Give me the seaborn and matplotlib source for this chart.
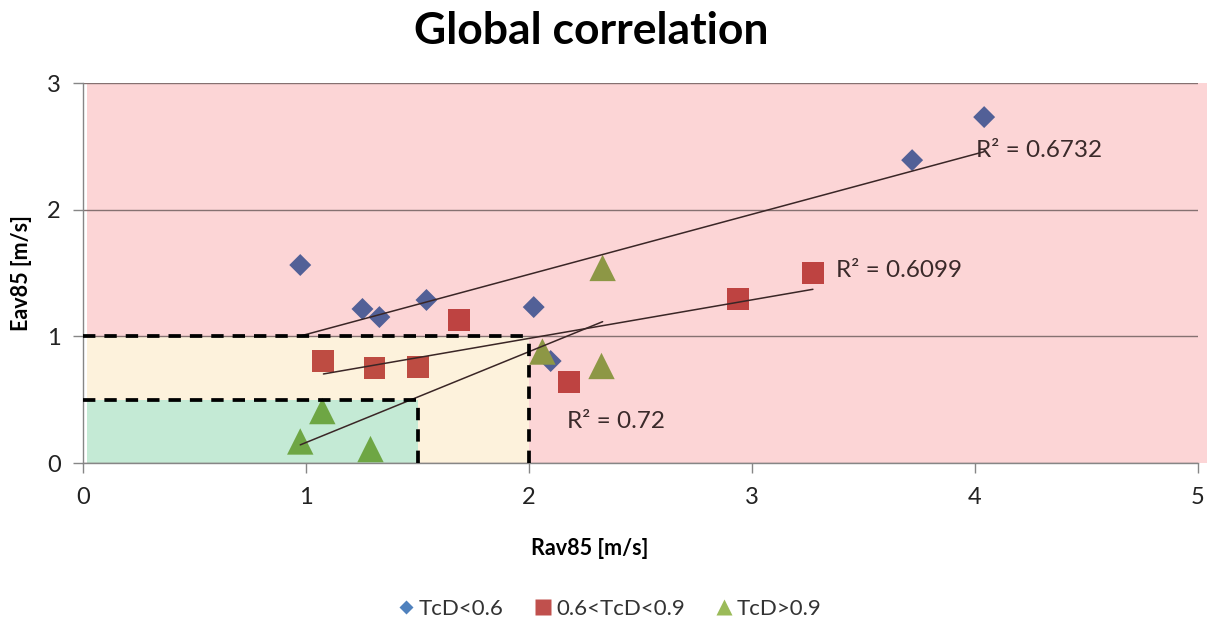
import numpy as np
import pandas as pd
import matplotlib
matplotlib.use("Agg")
import matplotlib.pyplot as plt
from matplotlib.patches import Polygon
from matplotlib.lines import Line2D
from matplotlib.colors import to_rgb, to_hex
import seaborn as sns

# --- data ---
low_x = [0.974, 1.253, 1.329, 1.540, 2.021, 2.097, 3.718, 4.041]
low_y = [1.563, 1.216, 1.152, 1.287, 1.231, 0.805, 2.391, 2.731]

mid_x = [1.078, 1.307, 1.504, 1.688, 2.178, 2.937, 3.273]
mid_y = [0.805, 0.750, 0.758, 1.129, 0.639, 1.294, 1.500]

high_x = [0.974, 1.073, 1.289, 2.060, 2.330, 2.325]
high_y = [0.170, 0.410, 0.110, 0.880, 1.540, 0.766]

series_names = ["TcD<0.6", "0.6<TcD<0.9", "TcD>0.9"]
r2_labels = ["R² = 0.6732", "R² = 0.6099", "R² = 0.72"]
r2_pos = [(4.005, 2.47), (3.377, 1.523), (2.169, 0.324)]

# threshold zones (Rav85 limit, Eav85 limit)
green_zone = (1.5, 0.5)
yellow_zone = (2.0, 1.0)
x_max, y_max = 5, 3

base_colors = ["#5373B4", "#C0504D", "#8FB552"]
markers = ["D", "s", "^"]
sizes = [125, 250, 361]
zone_colors = {"green": "#C4EAD5", "yellow": "#FDF2DC", "pink": "#FCD5D6"}


def zone_of(x, y):
    if x <= green_zone[0] and y <= green_zone[1]:
        return "green"
    if x <= yellow_zone[0] and y <= yellow_zone[1]:
        return "yellow"
    return "pink"


def tinted(base, zone):
    # the zones are laid over the markers like a multiply blend
    b = np.array(to_rgb(base))
    z = np.array(to_rgb(zone_colors[zone]))
    return to_hex(b * z)


sns.set_style("white")
plt.rcParams['font.family'] = ['Lato', 'DejaVu Sans']

fig = plt.figure(figsize=(12.09, 6.25), dpi=100)
ax = fig.add_axes([0.0687, 0.2592, 0.9222, 0.608])

x0 = 0.018
gx, gy = green_zone
yx, yy = yellow_zone
pink = Polygon([(x0, yy), (x0, y_max), (x_max + 0.04, y_max), (x_max + 0.04, 0), (yx, 0), (yx, yy)],
               closed=True, facecolor=zone_colors["pink"], edgecolor="none", zorder=0.2, clip_on=False)
yellow = Polygon([(x0, gy), (x0, yy), (yx, yy), (yx, 0), (gx, 0), (gx, gy)],
                 closed=True, facecolor=zone_colors["yellow"], edgecolor="none", zorder=0.2)
green = Polygon([(x0, 0), (x0, gy), (gx, gy), (gx, 0)],
                closed=True, facecolor=zone_colors["green"], edgecolor="none", zorder=0.2)
for p in (pink, yellow, green):
    ax.add_patch(p)

all_x = [low_x, mid_x, high_x]
all_y = [low_y, mid_y, high_y]

for xs, ys, name, col, mk, sz in zip(all_x, all_y, series_names, base_colors, markers, sizes):
    df = pd.DataFrame({"x": xs, "y": ys})
    df["col"] = [tinted(col, zone_of(a, b)) for a, b in zip(xs, ys)]
    sns.scatterplot(data=df, x="x", y="y", hue="col",
                    palette={c: c for c in df["col"].unique()},
                    marker=mk, s=sz, linewidth=0, legend=False, ax=ax, zorder=2)
    # linear trendline across the series range
    k, b = np.polyfit(xs, ys, 1)
    xx = np.array([min(xs), max(xs)])
    ax.plot(xx, k * xx + b, color="#3a2626", lw=1.1, zorder=3)

for txt, (tx, ty) in zip(r2_labels, r2_pos):
    ax.text(tx, ty, txt, fontsize=17.5, color="#3a2a2a", ha="left", va="center", zorder=4)

# dashed threshold outlines
dash = dict(color="black", lw=2.7, linestyle=(0, (3.3, 2.4)), zorder=5)
ax.plot([0, yx], [yy, yy], **dash)
ax.plot([yx, yx], [0, yy], **dash)
ax.plot([0, gx], [gy, gy], **dash)
ax.plot([gx, gx], [0, gy], **dash)

ax.set_xlim(0, x_max)
ax.set_ylim(0, y_max)
ax.set_xticks(range(0, 6))
ax.set_yticks(range(0, 4))
ax.set_axisbelow(True)
ax.yaxis.grid(True, color="#857171", lw=1.0)
ax.xaxis.grid(False)
ax.set_facecolor("white")

for s in ["top", "right"]:
    ax.spines[s].set_visible(False)
for s in ["left", "bottom"]:
    ax.spines[s].set_color("#868686")
    ax.spines[s].set_linewidth(1.0)

ax.tick_params(axis="both", direction="out", length=7, width=1, color="#868686",
               labelsize=17, labelcolor="#222222")
ax.tick_params(axis="x", pad=10, bottom=True)
ax.tick_params(axis="y", pad=9, left=True)
ax.set_xlabel("")
ax.set_ylabel("")

fig.text(0.489, 0.951, "Global correlation", fontsize=32, fontweight="bold",
         color="black", ha="center", va="center")
fig.text(0.488, 0.123, "Rav85 [m/s]", fontsize=15.5, fontweight="bold",
         color="black", ha="center", va="center")
fig.text(0.018, 0.563, "Eav85 [m/s]", fontsize=15.5, fontweight="bold",
         color="black", ha="center", va="center", rotation=90)

handles = [
    Line2D([], [], marker="D", ls="none", ms=7.5, color="#4F81BD", mec="none"),
    Line2D([], [], marker="s", ls="none", ms=11, color="#C0504D", mec="none"),
    Line2D([], [], marker="^", ls="none", ms=12, color="#9BBB59", mec="none"),
]
fig.legend(handles, series_names, loc="center", bbox_to_anchor=(0.503, 0.026), ncol=3,
           frameon=False, fontsize=16, handletextpad=0.1, columnspacing=1.25, handlelength=1.0,
           labelcolor="#333333")

fig.savefig("out.png", dpi=100)
